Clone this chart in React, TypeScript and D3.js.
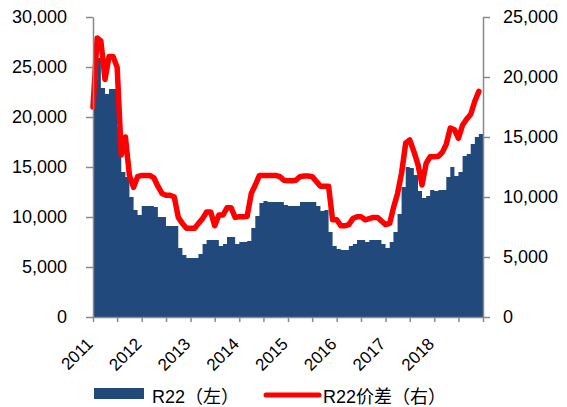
import React, {useEffect, useRef} from 'react';
import * as d3 from 'd3';

// monthly data, Jan 2011 .. Dec 2018
const years = [2011, 2012, 2013, 2014, 2015, 2016, 2017, 2018];

// R22 price (left axis)
const r22 = [
    23700, 25900, 22900, 22300, 22800, 22800, 19000, 14500, 14000, 12000, 10700, 10200,
    11100, 11100, 11100, 11000, 10000, 10000, 9100, 9100, 9100, 6900, 6200, 5900,
    5900, 5900, 6300, 7300, 7700, 7700, 7700, 7100, 7300, 8000, 8000, 7300,
    7500, 7500, 7600, 8900, 10100, 11400, 11600, 11500, 11500, 11500, 11500, 11200,
    11100, 11100, 11100, 11500, 11500, 11500, 11500, 11100, 10600, 10700, 8500, 7100,
    6800, 6700, 6700, 7100, 7300, 7700, 7700, 7500, 7700, 7700, 7700, 7300,
    6900, 7500, 8500, 10300, 13000, 15000, 14900, 14200, 12600, 11900, 12100, 12700,
    12600, 12700, 12700, 14000, 15000, 14100, 14500, 16100, 16300, 17300, 18000, 18300,
];

// R22 spread (right axis)
const spread = [
    17500, 23250, 23000, 19800, 21700, 21700, 20800, 13500, 15000, 11800, 10800, 11700,
    11800, 11800, 11800, 11600, 10900, 10300, 10150, 10150, 10000, 8300, 7800, 7400,
    7400, 7400, 7800, 8200, 8750, 8750, 7600, 8500, 8500, 9100, 9100, 8300,
    8350, 8350, 8400, 10300, 11000, 11800, 11800, 11800, 11800, 11800, 11700, 11400,
    11350, 11350, 11400, 11700, 11750, 11750, 11700, 11300, 10900, 10900, 10900, 8100,
    8100, 7600, 7600, 7700, 8200, 8350, 8350, 8100, 8200, 8300, 8300, 8000,
    7700, 7800, 9100, 10300, 12000, 14500, 14750, 13800, 12700, 11000, 12800, 13350,
    13350, 13400, 13700, 14400, 15750, 15600, 14900, 16000, 16500, 16900, 18000, 18800,
];

const leftTicks = [0, 5000, 10000, 15000, 20000, 25000, 30000];
const rightTicks = [0, 5000, 10000, 15000, 20000, 25000];
const legendLabels = ['R22（左）', 'R22价差（右）'];

const BLUE = '#21497c';
const RED = '#ff0000';
const GREY = '#898989';
const FONT = '"Liberation Sans", "Noto Sans CJK SC", sans-serif';

const App: React.FC = () => {
    const ref = useRef<SVGSVGElement>(null);
    useEffect(() => {
        const svg = d3.select(ref.current);
        svg.selectAll('*').remove();

        const months: Date[] = [];
        years.forEach((y) => d3.range(12).forEach((m) => months.push(new Date(y, m, 1))));
        const end = new Date(years[years.length - 1] + 1, 0, 1);

        const x = d3.scaleTime().domain([months[0], end]).range([93, 483]);
        const yL = d3.scaleLinear().domain([0, 30000]).range([317, 17]);
        const yR = d3.scaleLinear().domain([0, 25000]).range([317, 17]);

        // bars drawn as one stepped shape so neighbouring columns don't leave seams
        const barPts: [Date, number][] = r22.map((v, i) => [months[i], v]);
        barPts.push([end, r22[r22.length - 1]]);
        const bars = d3.area<[Date, number]>()
            .x((d) => x(d[0]))
            .y0(yL(0))
            .y1((d) => yL(d[1]))
            .curve(d3.curveStepAfter);
        svg.append('path')
            .datum(barPts)
            .attr('d', bars)
            .attr('fill', BLUE);

        // spread line
        const line = d3.line<number>()
            .x((d, i) => x(months[i]))
            .y((d) => yR(d));
        svg.append('path')
            .datum(spread)
            .attr('d', line)
            .attr('fill', 'none')
            .attr('stroke', RED)
            .attr('stroke-width', 5.5)
            .attr('stroke-linejoin', 'round')
            .attr('stroke-linecap', 'round');

        const styleAxis = (g: any) => {
            g.select('.domain').attr('stroke', GREY).attr('stroke-width', 1.5);
            g.selectAll('.tick line').attr('stroke', GREY).attr('stroke-width', 1.5);
            g.selectAll('.tick text').attr('fill', '#000').style('font-family', FONT).style('font-size', '18px');
        };

        svg.append('g')
            .attr('transform', 'translate(93,0)')
            .call(d3.axisLeft(yL).tickValues(leftTicks).tickFormat(d3.format(',')).tickSize(7).tickSizeOuter(0).tickPadding(19))
            .call(styleAxis);

        svg.append('g')
            .attr('transform', 'translate(483,0)')
            .call(d3.axisRight(yR).tickValues(rightTicks).tickFormat(d3.format(',')).tickSize(7).tickSizeOuter(0).tickPadding(13))
            .call(styleAxis);

        svg.append('g')
            .attr('transform', 'translate(0,317)')
            .call(d3.axisBottom(x).ticks(d3.timeMonth.every(6)).tickFormat(() => '').tickSize(5).tickSizeOuter(0))
            .call(styleAxis);

        // rotated year labels
        svg.append('g')
            .selectAll('text')
            .data(years)
            .enter()
            .append('text')
            .attr('transform', (d) => `translate(${x(new Date(d, 0, 1)) + 1},345) rotate(-45)`)
            .attr('text-anchor', 'end')
            .style('font-family', FONT)
            .style('font-size', '17px')
            .text((d) => String(d));

        // legend
        const lg = svg.append('g').style('font-family', FONT).style('font-size', '18px');
        lg.append('rect').attr('x', 94).attr('y', 388).attr('width', 50).attr('height', 11).attr('fill', BLUE);
        lg.append('text').attr('x', 152).attr('y', 403).text(legendLabels[0]);
        lg.append('line').attr('x1', 266).attr('x2', 319).attr('y1', 395).attr('y2', 395)
            .attr('stroke', RED).attr('stroke-width', 5).attr('stroke-linecap', 'round');
        lg.append('text').attr('x', 323).attr('y', 403).text(legendLabels[1]);
    }, []);

    return <svg ref={ref} width={567} height={407} style={{position: 'absolute', left: 0, top: 0, background: '#fff'}} />;
};

export default App;
